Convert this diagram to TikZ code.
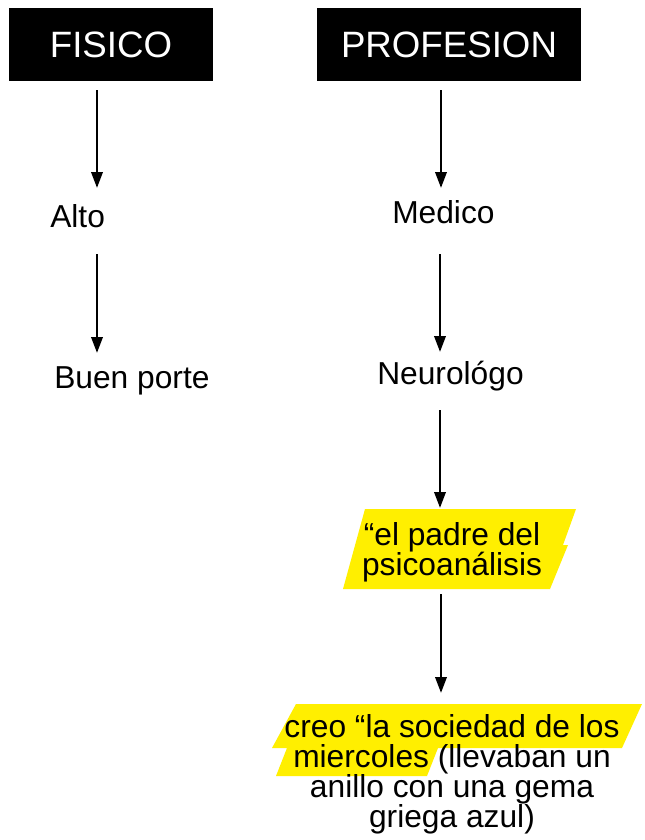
\documentclass[tikz,border=0pt]{standalone}
\usepackage{fontspec}
\setmainfont{Liberation Sans}
\usetikzlibrary{arrows.meta}
\definecolor{hl}{RGB}{255,239,0}
\begin{document}
\begin{tikzpicture}[x=0.75pt,y=-0.75pt,
  header/.style={fill=black,text=white,font=\fontsize{27.5pt}{30pt}\selectfont,inner sep=0pt,minimum height=54.75pt},
  lbl/.style={font=\fontsize{23.8pt}{22.5pt}\selectfont,inner sep=0pt},
  arr/.style={line width=1.9pt,-{Triangle[length=12pt,width=8.5pt]}}]
\useasboundingbox[fill=white] (0,0) rectangle (644,840);
% highlights
\fill[hl] (365,509) -- (576,509) -- (563,545) -- (568,545) -- (550,589) -- (343,589) -- cycle;
\fill[hl] (296,704) -- (642,704) -- (622,748) -- (438,748) -- (427,776) -- (276,776) -- (287,748) -- (272,748) -- cycle;
% headers
\node[header,minimum width=153pt] (fisico) at (111,44.5) {FISICO};
\node[header,minimum width=198pt] (profesion) at (449,44.5) {PROFESION};
% labels
\node[lbl,anchor=base west] (alto) at (50,227) {Alto};
\node[lbl,anchor=base west] (buen) at (54,388) {Buen porte};
\node[lbl,anchor=base west] (medico) at (392,223) {Medico};
\node[lbl,anchor=base west] (neuro) at (377,384) {Neurológo};
\node[lbl,align=center,anchor=base] (padre) at (452,575) {“el padre del\\psicoanálisis};
\node[lbl,align=center,anchor=base] (creo) at (452,827) {creo “la sociedad de los\\miercoles (llevaban un\\anillo con una gema\\griega azul)};
% arrow ends
\coordinate (a1s) at (97,90);  \coordinate (a1e) at (97,188);
\coordinate (a2s) at (97,254); \coordinate (a2e) at (97,353);
\coordinate (b1s) at (441,90); \coordinate (b1e) at (441,188);
\coordinate (b2s) at (440,254);\coordinate (b2e) at (440,352);
\coordinate (b3s) at (440,410);\coordinate (b3e) at (440,508);
\coordinate (b4s) at (441,594);\coordinate (b4e) at (441,693);
\draw[arr] (a1s) -- (a1e);
\draw[arr] (a2s) -- (a2e);
\draw[arr] (b1s) -- (b1e);
\draw[arr] (b2s) -- (b2e);
\draw[arr] (b3s) -- (b3e);
\draw[arr] (b4s) -- (b4e);
\end{tikzpicture}
\end{document}
